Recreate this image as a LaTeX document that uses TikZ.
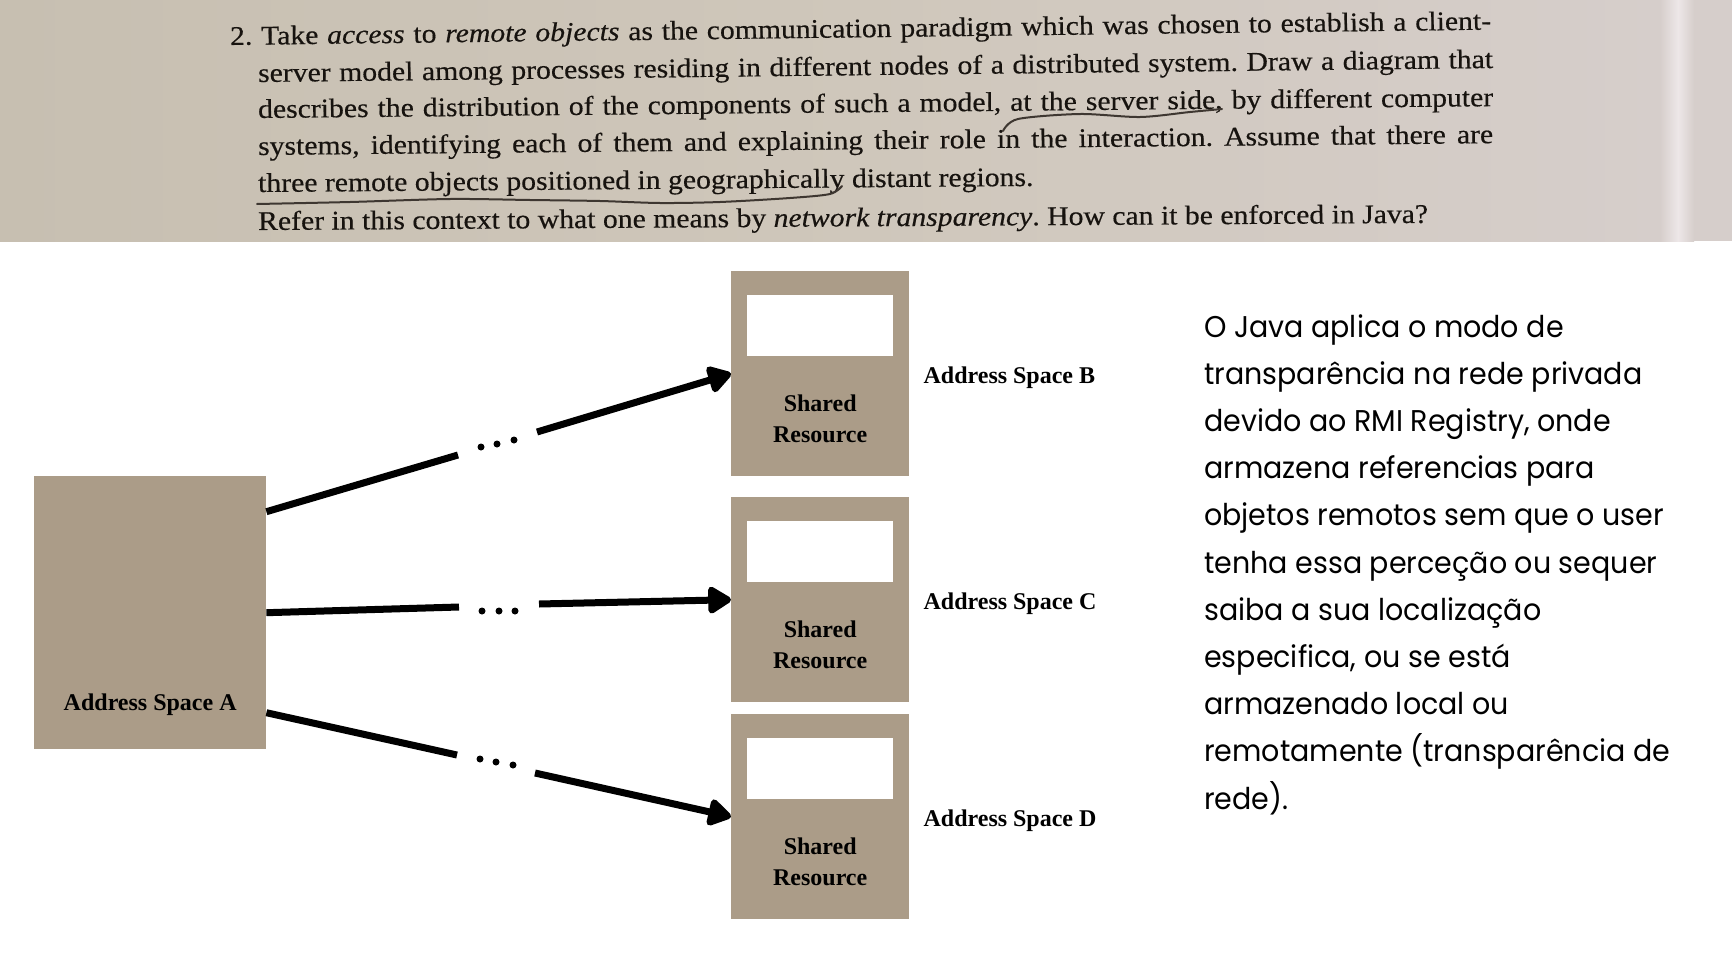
\documentclass[tikz,border=0pt]{standalone}
\usepackage{fontspec}
\setmainfont{Liberation Serif}
\newfontfamily\photofont[FakeStretch=1.1,FakeBold=0.4]{Liberation Serif}
\newfontfamily\bodyfont[FakeStretch=0.95]{Poppins}
\usetikzlibrary{arrows.meta}
\frenchspacing
\definecolor{taupe}{HTML}{AB9C88}
\definecolor{photoL}{HTML}{C7BFB1}
\definecolor{photoM}{HTML}{CFC7BB}
\definecolor{photoR}{HTML}{D6CECB}
\definecolor{streak}{HTML}{EDE7E8}
\definecolor{ink}{HTML}{17130F}
\definecolor{pen}{HTML}{3E3731}
\tikzset{
  resbox/.style={fill=taupe, draw=none, inner sep=0pt, minimum width=178pt, minimum height=205pt},
  slot/.style={fill=white, draw=none, inner sep=0pt, minimum width=146pt, minimum height=61pt},
  lbl/.style={inner sep=0pt, font=\fontsize{24}{28}\selectfont\bfseries, text=black},
  conn/.style={line width=7pt, line cap=butt, draw=black},
  tipconn/.style={conn, -{Triangle[length=26pt,width=30pt,round]}},
  ddot/.style={fill=black},
  photoline/.style={inner sep=0pt, anchor=base west, text=ink, font=\photofont\fontsize{27}{32}\selectfont},
  penline/.style={draw=pen, line width=2pt, line cap=round},
}
\begin{document}
\begin{tikzpicture}[x=1pt,y=-1pt]
\useasboundingbox (0,0) rectangle (1732,953);
\fill[white] (0,0) rectangle (1732,953);
% photo band
\shade[left color=photoL, right color=photoM] (0,0) rectangle (866,241);
\shade[left color=photoM, right color=photoR] (866,0) rectangle (1661,241);
\shade[left color=photoR, right color=streak] (1660,0) rectangle (1678,241);
\shade[left color=streak, right color=photoR] (1678,0) rectangle (1694,241);
\fill[photoR] (1694,0) rectangle (1732,241);
% photo text
\node[photoline, rotate=0.7] (p1) at (230,45) {\makebox[1261pt][s]{2. Take \textit{access} to \textit{remote objects} as the communication paradigm which was chosen to establish a client-}};
\node[photoline, rotate=0.65] (p2) at (258,82) {\makebox[1235pt][s]{server model among processes residing in different nodes of a distributed system. Draw a diagram that}};
\node[photoline, rotate=0.55] (p3) at (258,118) {\makebox[1235pt][s]{describes the distribution of the components of such a model, at the server side, by different computer}};
\node[photoline, rotate=0.55] (p4) at (258,155) {\makebox[1235pt][s]{systems, identifying each of them and explaining their role in the interaction. Assume that there are}};
\node[photoline, rotate=0.45] (p5) at (258,192) {three remote objects positioned in geographically distant regions.};
\node[photoline, rotate=0.35] (p6) at (258,230) {Refer in this context to what one means by \textit{network transparency}. How can it be enforced in Java?};
% pen marks
\draw[penline] plot[smooth] coordinates {(1003,131) (1018,119) (1080,114) (1140,117) (1190,112) (1222,109)};
\draw[penline] plot[smooth] coordinates {(257,204) (350,202) (450,199) (530,200) (600,201) (660,203) (720,202) (790,198) (830,194) (842,186)};
% address space A
\node[fill=taupe, inner sep=0pt, minimum width=232pt, minimum height=273pt, anchor=north west] (A) at (34,476) {};
\node[lbl, anchor=base] (Alab) at ([yshift=-234pt]A.north) {Address Space A};
% address spaces B, C, D
\foreach \n/\t in {B/271, C/497, D/714} {
  \node[resbox, anchor=north west] (\n) at (731,\t) {};
  \node[slot, anchor=north] (\n slot) at ([yshift=-24pt]\n.north) {};
  \node[lbl, anchor=base] (\n sh) at ([yshift=-140pt]\n.north) {Shared};
  \node[lbl, anchor=base] (\n res) at ([yshift=-171pt]\n.north) {Resource};
  \node[lbl, anchor=base west] (\n lab) at ([xshift=14pt, yshift=-112pt]\n.north east) {Address Space \n};
}
% gap coordinates
\coordinate (gB1) at (458,455); \coordinate (gB2) at (537,432);
\coordinate (gC1) at (459,607); \coordinate (gC2) at (539,604);
\coordinate (gD1) at (457,755); \coordinate (gD2) at (535,773);
% connectors
\draw[conn] ([yshift=101pt]A.east) -- (gB1);
\draw[tipconn] (gB2) -- (B.west);
\draw[conn] (A.east) -- (gC1);
\draw[tipconn] (gC2) -- (C.west);
\draw[conn] ([yshift=-100pt]A.east) -- (gD1);
\draw[tipconn] (gD2) -- (D.west);
% ellipsis dots
\foreach \p in {(481,447),(497,444),(514,440),(482,611),(499,611),(515,611),(480,759),(496,762),(513,765)}
  \fill[ddot] \p circle (3.5pt);
% explanation text
\node[inner sep=0pt, anchor=base west] (expl) at (1204,337) {\parbox[t]{520pt}{\bodyfont\fontsize{30}{47.2}\selectfont\raggedright
O Java aplica o modo de\\
transparência na rede privada\\
devido ao RMI Registry, onde\\
armazena referencias para\\
objetos remotos sem que o user\\
tenha essa perceção ou sequer\\
saiba a sua localização\\
especifica, ou se está\\
armazenado local ou\\
remotamente (transparência de\\
rede).}};
\end{tikzpicture}
\end{document}
